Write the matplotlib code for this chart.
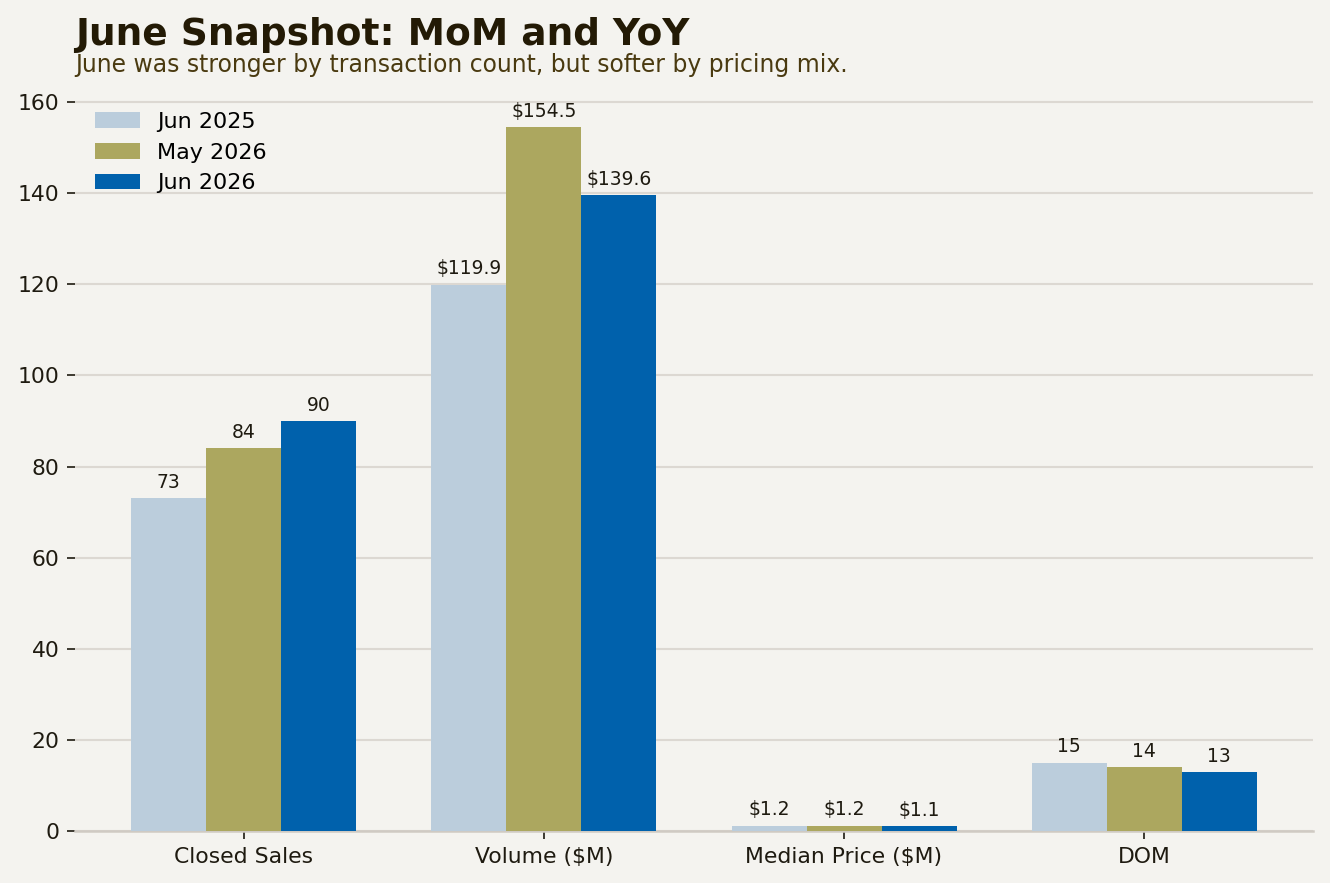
import matplotlib
matplotlib.use('Agg')
import matplotlib.pyplot as plt
import numpy as np

categories = ['Closed Sales', 'Volume ($M)', 'Median Price ($M)', 'DOM']
series_names = ['Jun 2025', 'May 2026', 'Jun 2026']
jun_2025 = [73, 119.9, 1.2, 15]
may_2026 = [84, 154.5, 1.2, 14]
jun_2026 = [90, 139.6, 1.1, 13]
money = [False, True, True, False]

colors = ['#bbcddc', '#aca75f', '#0061ac']
bg = '#f4f3ef'
text_dark = '#231a05'

fig = plt.figure(figsize=(1330 / 150, 883 / 150), dpi=150, facecolor=bg)
ax = fig.add_axes([0.0564, 0.0589, 0.9308, 0.837])
ax.set_facecolor(bg)

x = np.arange(len(categories))
w = 0.25
for i, (name, vals) in enumerate(zip(series_names, [jun_2025, may_2026, jun_2026])):
    bars = ax.bar(x + (i - 1) * w, vals, w, color=colors[i], label=name, zorder=3)
    labels = ['${:.1f}'.format(v) if m else '{:.0f}'.format(v) for v, m in zip(vals, money)]
    ax.bar_label(bars, labels=labels, padding=3, fontsize=9, color='#1e1a10')

ax.set_xticks(x)
ax.set_xticklabels(categories, fontsize=10.5, color='#1e1a10')
ax.tick_params(axis='y', labelsize=10.5, labelcolor='#1e1a10', color='#1e1a10', length=4)
ax.tick_params(axis='x', color='#1e1a10', length=4)
ax.yaxis.grid(True, color='#dcd8d2', linewidth=1, zorder=0)
ax.set_axisbelow(True)
for s in ['top', 'right', 'left']:
    ax.spines[s].set_visible(False)
ax.spines['bottom'].set_color('#cfcac3')
ax.spines['bottom'].set_linewidth(1.2)

ax.legend(loc='upper left', frameon=False, fontsize=10.7, borderaxespad=0.5,
          labelspacing=0.48)

fig.text(0.0564, 0.949, 'June Snapshot: MoM and YoY', fontsize=18, fontweight='bold',
         color=text_dark, ha='left', va='baseline')
fig.text(0.0564, 0.918, 'June was stronger by transaction count, but softer by pricing mix.',
         fontsize=11.3, color='#4a3a10', ha='left', va='baseline')

fig.savefig('out.png', dpi=150, facecolor=bg)
